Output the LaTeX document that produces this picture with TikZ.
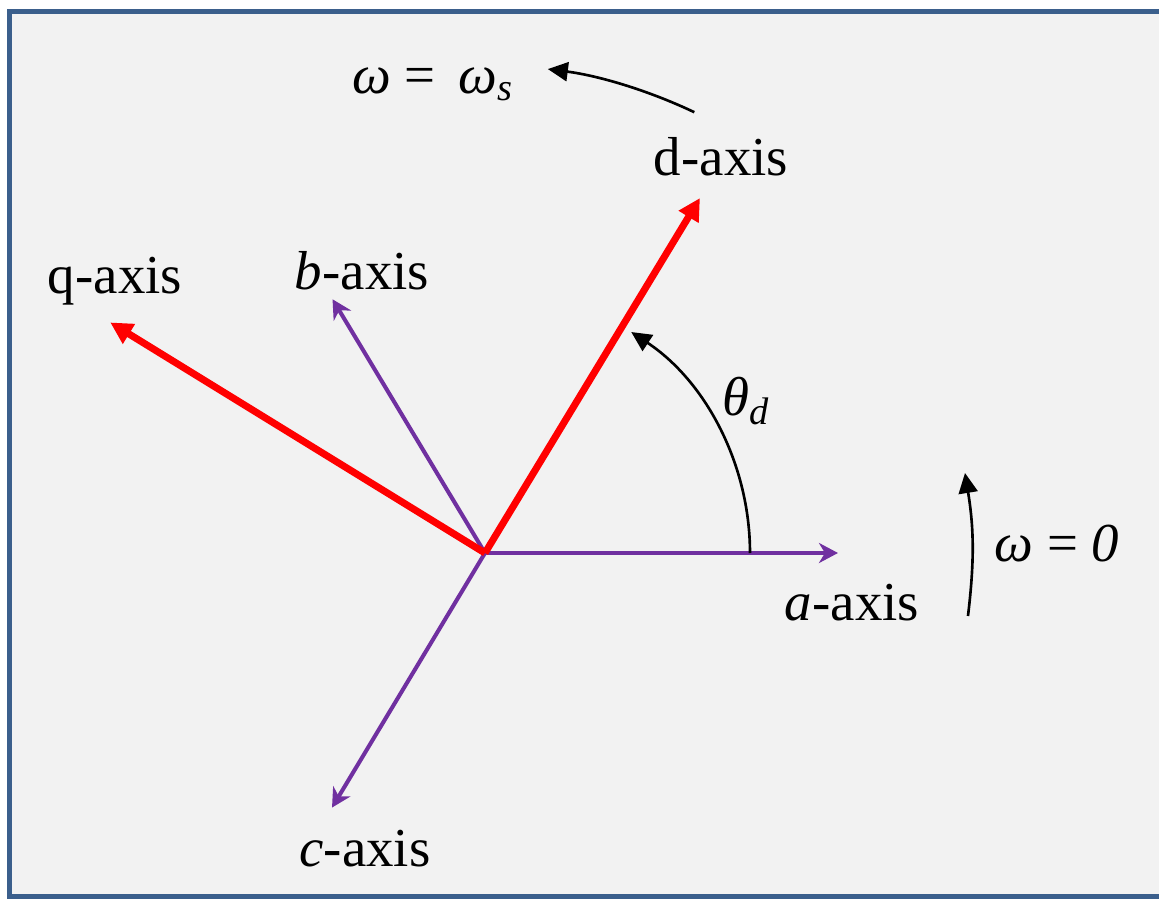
\documentclass[tikz,border=0pt]{standalone}
\usepackage{fontspec}
\setmainfont{Liberation Serif}
\usetikzlibrary{arrows.meta}
\definecolor{phase}{RGB}{112,48,160}
\definecolor{frame}{RGB}{59,95,140}
\definecolor{bg}{RGB}{242,242,242}

\begin{document}
\begin{tikzpicture}[
    x=0.01cm, y=0.01cm,
    font=\fontsize{15.6}{18}\selectfont,
    lbl/.style={anchor=base, inner sep=0pt},
    ph/.style={-{Stealth[length=1.9mm, width=2mm, inset=0.6mm]}, line width=1.15pt, phase},
    dq/.style={-{Triangle[length=2.2mm, width=2.2mm]}, line width=2pt, red},
    rot/.style={-{Triangle[length=2mm, width=1.9mm]}, line width=0.75pt, black},
]
\useasboundingbox (-485,-346) rectangle (674,553);
% --- background panel (open on the right) ---
\fill[bg] (-475.5,-343.5) rectangle (674,541.5);
\draw[line width=0.05cm, draw=frame] (674,541.5) -- (-475.5,541.5)
  -- (-475.5,-343.5) -- (674,-343.5);

% --- stationary abc axes ---
\coordinate (O) at (0,0);
\foreach \n/\ang/\len in {a/0/353, b/121/296, c/239/297}{
  \coordinate (\n) at (\ang:\len);
  \draw[ph] (O) -- (\n);
}
% --- rotating dq axes ---
\coordinate (d) at (58.8:415);
\coordinate (q) at (148.4:440);
\draw[dq] (O) -- (d);
\draw[dq] (O) -- (q);

% --- angle and rotation arrows ---
\coordinate (th0) at (265,0);
\draw[rot] (th0) arc[start angle=0, end angle=56.5, radius=265];
\coordinate (ws0) at (64.6:488);
\draw[rot] (ws0) arc[start angle=64.6, end angle=82.6, radius=488];
\coordinate (w0a) at (483,-63);
\coordinate (w0b) at (480,80);
\draw[rot] (w0a) to[bend right=8] (w0b);

% --- labels ---
\node[lbl] (la) at (367,-67)   {\textit{a}-axis};
\node[lbl] (lb) at (-123,264)  {\textit{b}-axis};
\node[lbl] (lc) at (-120,-313) {\textit{c}-axis};
\node[lbl] (ld) at (236,378)   {d-axis};
\node[lbl] (lq) at (-370,260)  {q-axis};
\node[lbl] (lth) at (262,138)  {\textit{θ}\textsubscript{\textit{d}}};
\node[lbl] (lws) at (-52,460)  {\textit{ω} = \,\textit{ω}\textsubscript{\textit{s}}};
\node[lbl] (lw0) at (572,-8)   {\textit{ω} = \textit{0}};
\end{tikzpicture}
\end{document}
